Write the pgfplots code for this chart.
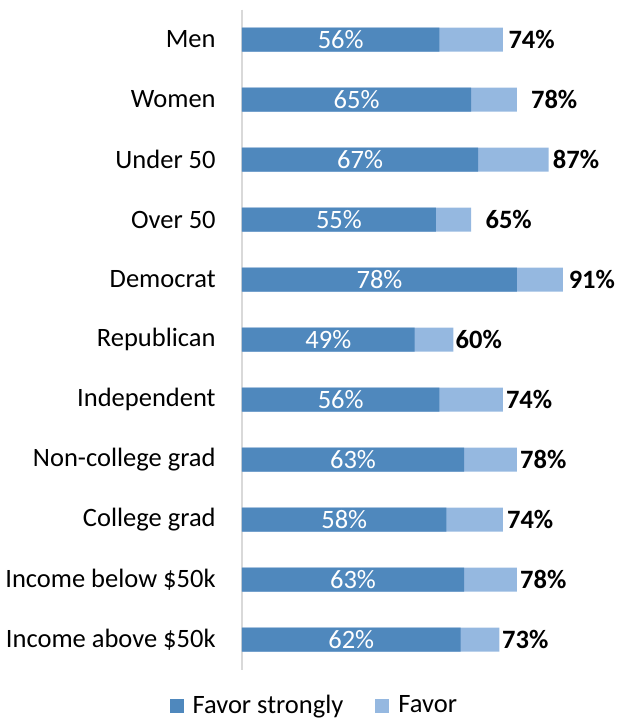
\documentclass[border=0pt]{standalone}
\usepackage{fontspec}
\setmainfont{Carlito}
\usepackage{pgfplots}
\usepackage{pgfplotstable}
\pgfplotsset{compat=1.18}

\definecolor{strongblue}{HTML}{4F88BD}
\definecolor{lightblue}{HTML}{95B8E0}
\definecolor{axisgray}{HTML}{D9D9D9}

% pos: row from top, half: middle of the dark bar, lab: where the total label starts
\pgfplotstableread{
pos strong half total lab
0   56 28.0 74 75.5
1   65 32.5 78 81.9
2   67 33.5 87 88.1
3   55 27.5 65 69.0
4   78 39.0 91 92.6
5   49 24.5 60 60.5
6   56 28.0 74 74.8
7   63 31.5 78 78.8
8   58 29.0 74 75.1
9   63 31.5 78 78.8
10  62 31.0 73 73.7
}\favordata

\begin{document}
\fontsize{13.25pt}{16pt}\selectfont
\begin{tikzpicture}
\begin{axis}[
    scale only axis,
    width=176.25pt,
    height=330pt,
    xmin=0, xmax=100,
    ymin=-0.5, ymax=10.5,
    y dir=reverse,
    axis x line=none,
    axis y line=left,
    y axis line style={-, draw=axisgray, line width=1pt},
    ytick={0,...,10},
    yticklabels={Men,Women,Under 50,Over 50,Democrat,Republican,Independent,
        Non-college grad,College grad,Income below \$50k,Income above \$50k},
    major tick length=0pt,
    ytick style={draw=none},
    yticklabel style={font=\fontsize{13.25pt}{16pt}\selectfont, inner sep=0pt, xshift=-13pt},
    bar width=12pt,
    reverse legend,
    legend columns=2,
    legend style={draw=none, at={(0.208,-0.056)}, anchor=center,
        font=\fontsize{13.25pt}{16pt}\selectfont,
        /tikz/every odd column/.append style={column sep=2.5pt},
        /tikz/every even column/.append style={column sep=14pt}},
    legend image code/.code={\fill[#1] (0pt,-3.5pt) rectangle (7pt,3.5pt);},
]
% light bars run to the total, dark bars overlay the "strongly" share
\addplot[xbar, bar shift=0pt, fill=lightblue, draw=none]
    table[x=total, y=pos] {\favordata};
\addlegendentry{Favor}
\addplot[xbar, bar shift=0pt, fill=strongblue, draw=none]
    table[x=strong, y=pos] {\favordata};
\addlegendentry{Favor strongly}
% labels inside the dark bars
\addplot[draw=none, mark=none, forget plot,
    nodes near coords={\pgfplotspointmeta\%},
    point meta=explicit symbolic,
    nodes near coords style={anchor=center, inner sep=0pt, white,
        font=\fontsize{13.25pt}{16pt}\selectfont}]
    table[x=half, y=pos, meta=strong] {\favordata};
% totals to the right of the bars
\addplot[draw=none, mark=none, forget plot,
    nodes near coords={\textbf{\pgfplotspointmeta\%}},
    point meta=explicit symbolic,
    nodes near coords style={anchor=west, inner sep=0pt, black,
        font=\fontsize{13.25pt}{16pt}\selectfont}]
    table[x=lab, y=pos, meta=total] {\favordata};
\end{axis}
\pgfresetboundingbox
\useasboundingbox (-121pt,-24.75pt) rectangle (187.5pt,334.75pt);
\end{tikzpicture}
\end{document}
